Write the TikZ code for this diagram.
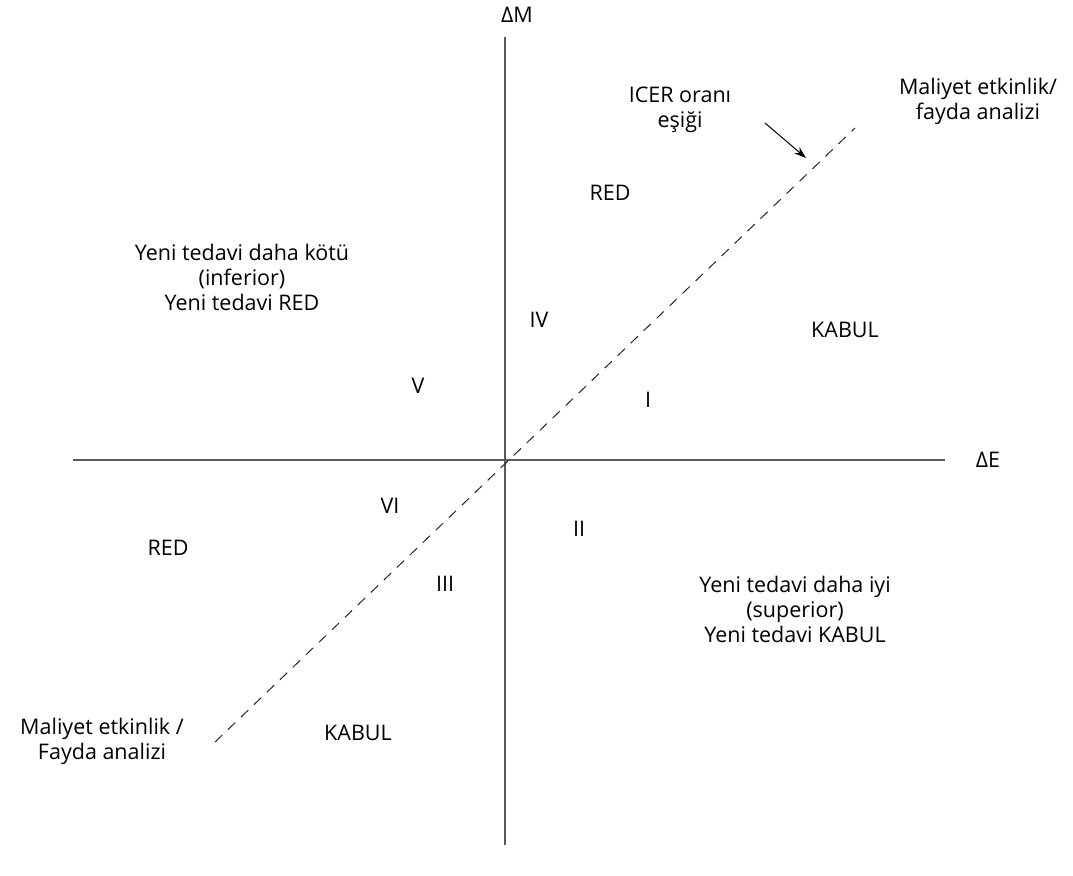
\documentclass[tikz,border=0pt]{standalone}
\usepackage{fontspec}
\setmainfont{Open Sans}
\usetikzlibrary{arrows.meta}
\begin{document}
\begin{tikzpicture}[x=1pt,y=-1pt,
  lbl/.style={font=\fontsize{21.5}{25}\selectfont, align=center, inner sep=0pt, text=black},
  axis/.style={draw=black!65, line width=1.4pt},
  thresh/.style={draw=black!85, line width=1pt, dash pattern=on 10pt off 8pt}]
\useasboundingbox (0,0) rectangle (1073,875);
\coordinate (xl) at (73,460);
\coordinate (xr) at (945,460);
\coordinate (yt) at (505,37);
\coordinate (yb) at (505,845);
\coordinate (dl) at (215,742);
\coordinate (du) at (855,128);
\coordinate (as) at (765,123);
\coordinate (ae) at (806,158);
\draw[axis] (xl) -- (xr);
\draw[axis] (yt) -- (yb);
\draw[thresh] (dl) -- (du);
\draw[black, line width=1pt, -{Stealth[length=12pt,width=8pt]}] (as) -- (ae);
\node[lbl] (dm) at (517,15) {ΔM};
\node[lbl] (de) at (988,460) {ΔE};
\node[lbl] (icer) at (680,110) {ICER oranı\\eşiği};
\node[lbl] (mea) at (978,101) {Maliyet etkinlik/\\fayda analizi};
\node[lbl] (red1) at (610,193) {RED};
\node[lbl] (inf) at (242,277) {Yeni tedavi daha kötü\\(inferior)\\Yeni tedavi RED};
\node[lbl] (iv) at (539,320) {IV};
\node[lbl] (kab1) at (845,330) {KABUL};
\node[lbl] (v) at (418,386) {V};
\node[lbl] (i) at (648,400) {I};
\node[lbl] (vi) at (390,506) {VI};
\node[lbl] (ii) at (579,529) {II};
\node[lbl] (red2) at (168,548) {RED};
\node[lbl] (iii) at (445,584) {III};
\node[lbl] (sup) at (795,609) {Yeni tedavi daha iyi\\(superior)\\Yeni tedavi KABUL};
\node[lbl] (mel) at (102,741) {Maliyet etkinlik /\\Fayda analizi};
\node[lbl] (kab2) at (358,733) {KABUL};
\end{tikzpicture}
\end{document}
